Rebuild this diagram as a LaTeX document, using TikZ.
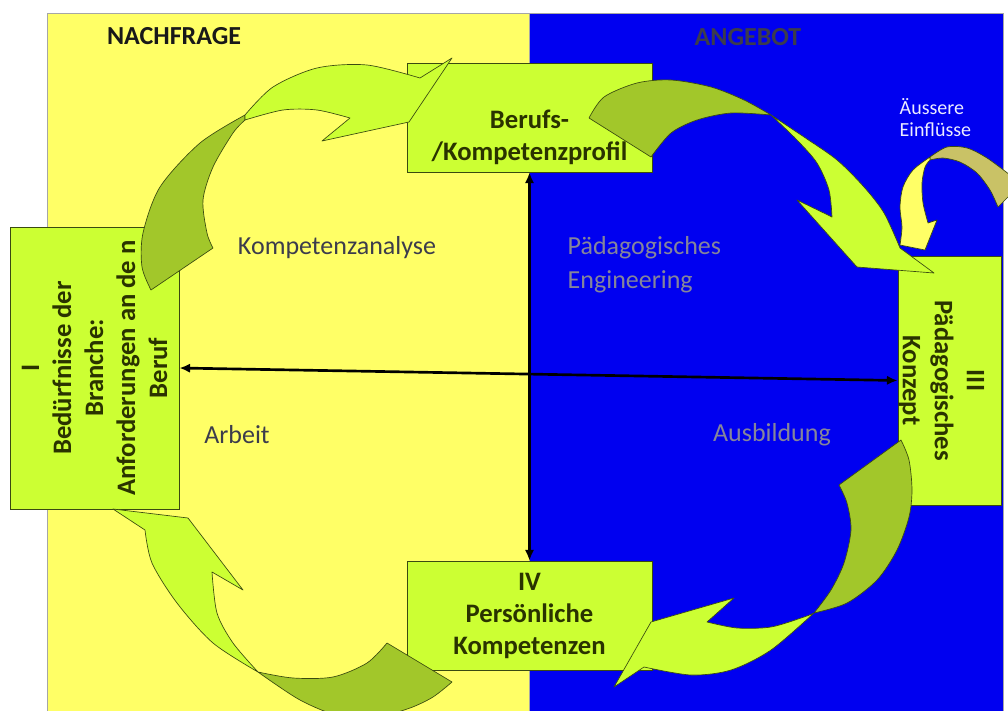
\documentclass[tikz,border=0pt]{standalone}
\usepackage{fontspec}
\setmainfont{Carlito}
\usetikzlibrary{arrows.meta}
\definecolor{demand}{HTML}{FFFF66}
\definecolor{supply}{HTML}{0000F0}
\definecolor{stagefill}{HTML}{CCFF33}
\definecolor{twist}{HTML}{A2C72A}
\definecolor{outside}{HTML}{C9C266}
\definecolor{stageink}{HTML}{2A3300}
\definecolor{edgeink}{HTML}{3A4A10}
\definecolor{darklabel}{HTML}{3C3C4C}
\definecolor{greylabel}{HTML}{85859A}

\begin{document}
\begin{tikzpicture}[x=0.75pt,y=-0.75pt,
  stage/.style={draw=edgeink,fill=stagefill,line width=0.6pt,inner sep=0pt,align=center,
    font=\fontsize{20}{24}\selectfont\bfseries,text=stageink},
  band/.style={font=\fontsize{19.5}{22}\selectfont\bfseries},
  phase/.style={font=\fontsize{19.5}{25.5}\selectfont,align=left},
  front/.style={fill=#1,draw=edgeink,line width=0.5pt,line join=round},
  front/.default=stagefill,
  back/.style={fill=#1,draw=edgeink,line width=0.5pt,line join=round},
  back/.default=twist,
  link/.style={{Latex[length=8pt,width=7pt]}-{Latex[length=8pt,width=7pt]},line width=2pt},
]
  \useasboundingbox (0,0) rectangle (1008,711);

  % Demand and supply halves
  \fill[demand,draw=gray!70] (47,13) rectangle (529,711);
  \fill[supply,draw=gray!70] (529,13) rectangle (1003,711);
  \node[band,text=black!90] (demand) at (174,36) {NACHFRAGE};
  \node[band,text=darklabel] (supply) at (748,37) {ANGEBOT};

  % Stages of the cycle
  \node[stage,rotate=90,minimum width=211.5pt,minimum height=126.75pt] (needs) at (94.5,368)
    {I\\Bedürfnisse der\\Branche:\\Anforderungen an de n\\Beruf};
  \node[stage,minimum width=183.75pt,minimum height=81.75pt] (profile) at (529.5,117.5)
    {\rule{0pt}{20pt}\\Berufs-\\/Kompetenzprofil};
  \node[stage,rotate=-90,minimum width=186.75pt,minimum height=77.25pt] (concept) at (949.5,380.5)
    {\rule{0pt}{25pt}III\\Pädagogisches\\Konzept};
  \node[stage,minimum width=183.75pt,minimum height=81.75pt] (skills) at (529.5,615.5)
    {IV\\Persönliche\\Kompetenzen};

  % Axes
  \draw[link] (profile.south) -- (skills.north);
  \draw[link] (needs.south) -- (concept.south);

  % Phase labels
  \node[phase,text=darklabel] (analysis) at (337,248) {Kompetenzanalyse};
  \node[phase,text=greylabel,anchor=west] (engineering) at (563,265) {Pädagogisches\\Engineering};
  \node[phase,text=darklabel] (work) at (237,435) {Arbeit};
  \node[phase,text=greylabel] (training) at (772,435) {Ausbildung};
  \node[font=\fontsize{15}{16.5}\selectfont,text=blue!8!white,align=left,anchor=west] (external) at (895,118)
    {Äussere\\Einflüsse};

  \begin{scope}
    \clip (0,0) rectangle (1008,711);
    % I -> II
    \filldraw[back] plot[smooth] coordinates {(151,290) (142,267) (143,233) (160,187) (200,143) (245,115)}
      -- plot[smooth] coordinates {(245,120) (233,133) (213,167) (203,200) (207,233) (213,248)} -- cycle;
    \filldraw[front] plot[smooth] coordinates {(245,115) (273,87) (317,68) (367,65) (420,78)}
      -- (452,58) -- (409,122) -- (322,141) -- (350,118)
      -- plot[smooth] coordinates {(350,118) (317,110) (283,110) (245,120)} -- cycle;
    % II -> III
    \filldraw[back] plot[smooth] coordinates {(589,118) (604,97) (637,83) (671,80) (711,87) (744,100) (771,115)}
      -- plot[smooth] coordinates {(771,115) (731,113) (697,120) (671,133) (651,157)} -- cycle;
    \filldraw[front] plot[smooth] coordinates {(771,115) (804,137) (837,160) (864,187) (884,213) (900,248)}
      -- (934,273) -- (857,267) -- (797,200) -- (832,217)
      -- plot[smooth] coordinates {(832,217) (829,190) (817,163) (797,140) (771,115)} -- cycle;
    % outside influences
    \filldraw[back=outside] plot[smooth] coordinates {(1010,175) (987,158) (967,148) (947,147) (930,157)}
      -- plot[smooth] coordinates {(930,160) (943,158) (960,162) (977,173) (990,190) (998,207)}
      -- (1010,195) -- cycle;
    \filldraw[front=demand] plot[smooth] coordinates {(930,157) (913,170) (903,187) (900,207) (902,227) (900,245)}
      -- (925,250) -- (937,220) -- (928,223)
      -- plot[smooth] coordinates {(928,223) (923,203) (922,183) (925,167) (930,160)} -- cycle;
    % III -> IV
    \filldraw[back] plot[smooth] coordinates {(901,440) (909,460) (912,490) (909,517) (897,550) (877,580) (847,603) (814,613)}
      -- plot[smooth] coordinates {(814,613) (831,590) (844,563) (851,530) (847,503) (839,485)} -- cycle;
    \filldraw[front] plot[smooth] coordinates {(814,613) (771,650) (731,670) (691,675) (644,667)}
      -- (614,687) -- (651,622) -- (734,598) -- (707,622)
      -- plot[smooth] coordinates {(707,622) (737,628) (771,627) (804,617) (814,613)} -- cycle;
    % IV -> I
    \filldraw[back] plot[smooth] coordinates {(387,643) (367,663) (333,677) (293,678) (258,672)}
      -- plot[smooth] coordinates {(258,672) (300,700) (340,716) (380,716) (410,708) (433,697) (452,682)} -- cycle;
    \filldraw[front] plot[smooth] coordinates {(258,672) (213,643) (177,603) (152,563) (145,530)}
      -- (113,509) -- (188,518) -- (243,590) -- (212,572)
      -- plot[smooth] coordinates {(212,572) (217,613) (233,643) (258,672)} -- cycle;
  \end{scope}
\end{tikzpicture}
\end{document}
